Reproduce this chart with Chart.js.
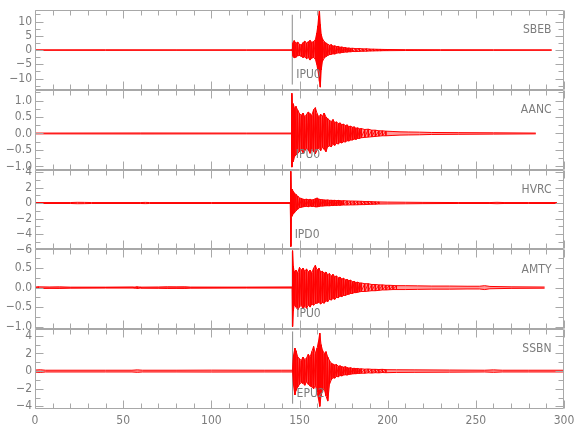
<!DOCTYPE html>
<html>
<head>
<meta charset="utf-8">
<script src="https://cdn.jsdelivr.net/npm/chart.js@4.4.1/dist/chart.umd.min.js"></script>
<style>
  html, body { margin: 0; padding: 0; background: #ffffff; }
  #wrap { width: 580px; height: 440px; position: relative; }
</style>
</head>
<body>
<div id="wrap"><canvas id="c" width="580" height="440"></canvas></div>
<script>
// ---- Data (time in seconds; amplitude envelopes) ----
const stations = ['SBEB', 'AANC', 'HVRC', 'AMTY', 'SSBN'];
const pickLabels = ['IPU0', 'IPU0', 'IPD0', 'IPU0', 'EPU2'];
const pickTimes = [145.9, 145.6, 145.0, 145.9, 146.1];
const pickHi = [12.4, 1.17, 4.1, 0.93, 4.5];
const pickLo = [-12.1, -1.0, -5.6, -1.0, -3.7];

const yMin = [-14, -1.1, -6, -1.07, -4.3];
const yMax = [14, 1.32, 4.3, 0.98, 4.75];
const yStep = [5, 0.5, 2, 0.5, 2];
const yMinor = [2.5, 0.25, 1, 0.25, 1];
const yDecimals = [0, 1, 0, 1, 0];
const xTickLabels = [0, 50, 100, 150, 200, 250, 300];

const sbebT = [0, 40, 80, 120, 145.9, 146.4, 147, 148, 149, 150, 151, 152, 153, 154, 155, 156, 157, 158, 159, 159.8, 160.4, 160.9, 161.3, 161.8, 162.3, 163, 164, 165,
  166, 167, 168, 169, 170, 171, 172, 173, 174, 175, 176, 177, 178, 179, 180, 182, 184, 186, 188, 190, 192, 194, 196, 198, 200, 210, 230, 260, 293];
const sbebHi = [0.08, 0.1, 0.08, 0.08, 0.1, 2.6, 3.3, 2.4, 2.8, 2.0, 1.8, 2.6, 3.1, 2.5, 2.9, 3.4, 2.7, 3.0, 3.6, 6.0, 8.5, 12.0, 14.0, 9.0, 5.5, 4.0, 3.0, 2.5,
  2.1, 1.7, 1.9, 1.4, 1.5, 1.2, 1.3, 1.0, 1.1, 0.85, 0.9, 0.7, 0.75, 0.6, 0.65, 0.5, 0.55, 0.42, 0.45, 0.35, 0.32, 0.28, 0.25, 0.22, 0.2, 0.15, 0.12, 0.1, 0.08];
const sbebLo = [-0.08, -0.1, -0.08, -0.08, -0.1, -2.2, -2.7, -2.5, -2.0, -1.9, -2.2, -2.6, -2.4, -3.0, -2.6, -3.5, -2.8, -2.6, -3.2, -5.0, -7.0, -9.0, -11.0, -13.0, -7.0, -4.0, -2.8, -2.3,
  -1.9, -1.6, -1.5, -1.3, -1.4, -1.1, -1.0, -1.05, -0.85, -0.8, -0.7, -0.72, -0.6, -0.62, -0.5, -0.52, -0.45, -0.4, -0.38, -0.32, -0.3, -0.26, -0.24, -0.2, -0.2, -0.15, -0.12, -0.1, -0.08];

const aancT = [0, 60, 120, 145.5, 145.7, 146.0, 146.5, 147.2, 148, 149, 150, 151, 152, 153, 154, 155, 156, 157, 158, 159, 160, 161, 162, 163, 164, 165, 166,
  167, 168, 169, 170, 171, 172, 173, 174, 175, 176, 177, 178, 179, 180, 181, 182, 183, 184, 185, 187, 189, 191, 193, 195, 197, 199, 203, 207, 212, 218, 225, 240, 260, 284];
const aancHi = [0.012, 0.015, 0.012, 0.012, 1.22, 0.85, 0.9, 0.75, 0.82, 0.7, 0.6, 0.55, 0.62, 0.5, 0.58, 0.65, 0.6, 0.55, 0.72, 0.78, 0.6, 0.5, 0.58, 0.52, 0.62, 0.5, 0.45,
  0.4, 0.36, 0.42, 0.33, 0.35, 0.3, 0.32, 0.27, 0.28, 0.24, 0.26, 0.21, 0.22, 0.19, 0.2, 0.16, 0.17, 0.14, 0.15, 0.12, 0.13, 0.1, 0.1, 0.08, 0.08, 0.07, 0.06, 0.05, 0.045, 0.04, 0.03, 0.025, 0.02, 0.012];
const aancLo = [-0.012, -0.015, -0.012, -0.012, -1.02, -0.8, -0.85, -0.7, -0.65, -0.6, -0.55, -0.5, -0.58, -0.52, -0.45, -0.5, -0.6, -0.48, -0.55, -0.62, -0.5, -0.45, -0.52, -0.42, -0.48, -0.55, -0.4,
  -0.38, -0.4, -0.33, -0.36, -0.3, -0.32, -0.27, -0.29, -0.25, -0.26, -0.22, -0.23, -0.2, -0.2, -0.17, -0.18, -0.15, -0.15, -0.13, -0.12, -0.11, -0.1, -0.09, -0.08, -0.07, -0.07, -0.06, -0.05, -0.045, -0.04, -0.03, -0.025, -0.02, -0.012];

const hvrcT = [0, 20, 24, 28, 32, 60, 62.5, 65, 100, 144.8, 145.1, 145.4, 145.8, 146.4, 147, 148, 149, 150, 151, 152,
  153, 154, 155, 156, 157, 158, 159, 160, 161, 162, 163, 164, 165, 166, 167, 168, 169, 170, 171, 172, 173, 174, 175,
  177, 179, 181, 183, 185, 187, 189, 191, 193, 195, 200, 210, 220, 240, 258, 262, 266, 280, 296];
const hvrcHi = [0.06, 0.06, 0.09, 0.08, 0.06, 0.06, 0.08, 0.06, 0.06, 0.06, 4.1, 1.3, 1.8, 1.5, 1.3, 1.1, 0.9, 0.65, 0.6, 0.5,
  0.45, 0.5, 0.42, 0.48, 0.4, 0.45, 0.55, 0.65, 0.5, 0.45, 0.42, 0.4, 0.38, 0.4, 0.35, 0.36, 0.33, 0.35, 0.3, 0.34, 0.3, 0.28, 0.3,
  0.27, 0.26, 0.25, 0.24, 0.22, 0.2, 0.2, 0.17, 0.15, 0.14, 0.12, 0.1, 0.08, 0.06, 0.06, 0.09, 0.06, 0.06, 0.06];
const hvrcLo = [-0.06, -0.06, -0.09, -0.08, -0.06, -0.06, -0.08, -0.06, -0.06, -0.06, -5.6, -1.0, -1.7, -1.4, -1.3, -1.0, -0.8, -0.6, -0.55, -0.5,
  -0.45, -0.42, -0.48, -0.4, -0.45, -0.42, -0.5, -0.5, -0.45, -0.4, -0.4, -0.38, -0.36, -0.35, -0.36, -0.32, -0.33, -0.3, -0.32, -0.28, -0.3, -0.27, -0.26,
  -0.26, -0.24, -0.24, -0.22, -0.21, -0.2, -0.18, -0.16, -0.15, -0.13, -0.12, -0.1, -0.08, -0.06, -0.06, -0.09, -0.06, -0.06, -0.06];

const amtyT = [0, 2, 8, 14, 20, 40, 56, 58, 60, 70, 75, 80, 85, 88, 120, 145.9, 146.1, 146.5, 147, 148, 149, 150, 151, 152, 153, 154, 155, 156, 157, 158, 159, 160, 161, 162,
  163, 164, 165, 166, 167, 168, 169, 170, 171, 172, 173, 174, 175, 176, 177, 178, 179, 180, 181, 182, 183, 184, 185,
  187, 189, 191, 193, 195, 197, 199, 201, 203, 205, 210, 217, 225, 235, 245, 252, 255, 258, 270, 289];
const amtyHi = [0.016, 0.02, 0.016, 0.02, 0.012, 0.012, 0.012, 0.02, 0.012, 0.016, 0.022, 0.02, 0.022, 0.014, 0.012, 0.012, 0.95, 0.55, 0.4, 0.45, 0.38, 0.52, 0.45, 0.5, 0.42, 0.48, 0.4, 0.45, 0.38, 0.5, 0.57, 0.45, 0.5, 0.4,
  0.42, 0.37, 0.4, 0.33, 0.36, 0.3, 0.34, 0.28, 0.3, 0.25, 0.27, 0.22, 0.24, 0.2, 0.21, 0.18, 0.19, 0.15, 0.16, 0.13, 0.14, 0.12, 0.12,
  0.1, 0.1, 0.08, 0.08, 0.07, 0.07, 0.06, 0.06, 0.055, 0.05, 0.05, 0.045, 0.04, 0.04, 0.035, 0.035, 0.05, 0.03, 0.02, 0.015];
const amtyLo = [-0.016, -0.02, -0.016, -0.02, -0.012, -0.012, -0.012, -0.02, -0.012, -0.016, -0.022, -0.02, -0.022, -0.014, -0.012, -0.012, -1.0, -0.6, -0.44, -0.5, -0.57, -0.5, -0.45, -0.55, -0.48, -0.53, -0.45, -0.5, -0.42, -0.45, -0.41, -0.4, -0.38, -0.42,
  -0.38, -0.4, -0.34, -0.36, -0.3, -0.32, -0.28, -0.3, -0.25, -0.26, -0.22, -0.23, -0.2, -0.2, -0.18, -0.17, -0.15, -0.15, -0.13, -0.13, -0.12, -0.11, -0.1,
  -0.1, -0.09, -0.08, -0.08, -0.07, -0.06, -0.06, -0.055, -0.05, -0.05, -0.05, -0.045, -0.04, -0.04, -0.035, -0.035, -0.05, -0.03, -0.02, -0.015];

const ssbnT = [0, 3, 6, 40, 55, 58, 61, 80, 100, 130, 140, 146.1, 146.6, 147.4, 148, 149, 150, 151, 152, 153, 154, 155, 156, 157, 158, 159, 160, 160.8, 161.5, 162.2, 163, 164, 165, 166, 167, 168,
  169, 170, 171, 172, 173, 174, 175, 176, 177, 178, 179, 180, 181, 182, 183, 184, 185, 187, 189, 191, 193, 195, 197, 199, 205, 215, 235, 255, 260, 265, 280, 300];
const ssbnHi = [0.12, 0.15, 0.1, 0.1, 0.1, 0.14, 0.1, 0.1, 0.11, 0.1, 0.1, 0.1, 1.8, 2.6, 2.3, 1.6, 1.4, 1.2, 1.6, 1.3, 1.5, 1.9, 1.6, 2.2, 2.8, 2.0, 2.6, 3.4, 4.3, 3.0, 2.4, 2.0, 2.2, 1.6, 1.2, 0.9,
  0.8, 0.7, 0.75, 0.55, 0.6, 0.5, 0.45, 0.5, 0.4, 0.35, 0.38, 0.3, 0.32, 0.28, 0.3, 0.25, 0.26, 0.22, 0.24, 0.2, 0.2, 0.18, 0.2, 0.16, 0.15, 0.14, 0.12, 0.1, 0.14, 0.1, 0.1, 0.1];
const ssbnLo = [-0.12, -0.15, -0.1, -0.1, -0.1, -0.14, -0.1, -0.1, -0.11, -0.1, -0.1, -0.1, -1.6, -2.7, -2.2, -1.8, -1.5, -1.3, -1.4, -1.6, -1.2, -1.5, -1.7, -1.8, -2.0, -1.6, -2.4, -3.2, -4.0, -2.8, -2.2, -2.0, -2.8, -3.4, -1.5, -1.0,
  -0.75, -0.8, -0.6, -0.65, -0.5, -0.55, -0.45, -0.42, -0.45, -0.38, -0.35, -0.32, -0.3, -0.3, -0.26, -0.26, -0.24, -0.24, -0.2, -0.22, -0.18, -0.2, -0.16, -0.18, -0.15, -0.14, -0.12, -0.1, -0.14, -0.1, -0.1, -0.1];

const traceT = [sbebT, aancT, hvrcT, amtyT, ssbnT];
const traceHi = [sbebHi, aancHi, hvrcHi, amtyHi, ssbnHi];
const traceLo = [sbebLo, aancLo, hvrcLo, amtyLo, ssbnLo];

// ---- Styling ----
const FONT = "'Liberation Sans Narrow', 'DejaVu Sans Condensed', 'Roboto Condensed', Roboto, sans-serif";
const TEXT = '#7c7c7c';
const FRAME = '#a8a8a8';
const PICK = '#8a8a8a';
const RED = '#ff0000';

const datasets = [];
stations.forEach((s, i) => {
  const T = traceT[i];
  // oscillating strokes where the envelope is densely sampled (strong motion)
  const pts = [];
  T.forEach((t, k) => {
    const prevGap = k > 0 ? t - T[k - 1] : 99;
    const nextGap = k < T.length - 1 ? T[k + 1] - t : 99;
    if (Math.min(prevGap, nextGap) <= 2.1) {
      pts.push({ x: t, y: traceHi[i][k] }, { x: t, y: traceLo[i][k] });
    }
  });
  datasets.push({
    label: s + ' trace', yAxisID: 'y' + i, data: pts,
    borderColor: 'rgba(255,0,0,0.9)', borderWidth: 1, pointRadius: 0, fill: false, tension: 0
  });
});
stations.forEach((s, i) => {
  const T = traceT[i];
  datasets.push({
    label: s + ' hi', yAxisID: 'y' + i,
    data: T.map((t, k) => ({ x: t, y: traceHi[i][k] })),
    borderColor: RED, borderWidth: 1, pointRadius: 0, fill: false, tension: 0
  });
  datasets.push({
    label: s + ' lo', yAxisID: 'y' + i,
    data: T.map((t, k) => ({ x: t, y: traceLo[i][k] })),
    borderColor: RED, borderWidth: 1, pointRadius: 0, tension: 0,
    fill: '-1', backgroundColor: 'rgba(255,30,30,0.45)'
  });
});
stations.forEach((s, i) => {
  datasets.push({
    label: s + ' pick', yAxisID: 'y' + i,
    data: [{ x: pickTimes[i], y: pickLo[i] }, { x: pickTimes[i], y: pickHi[i] }],
    borderColor: PICK, borderWidth: 1, pointRadius: 0, fill: false
  });
});

const scales = {
  x: {
    type: 'linear', position: 'bottom', min: 0, max: 300,
    grid: { display: false, drawTicks: false },
    border: { display: false },
    afterBuildTicks: (sc) => { sc.ticks = xTickLabels.map(v => ({ value: v })); },
    ticks: { color: TEXT, font: { family: FONT, size: 12 }, padding: 5, maxRotation: 0, autoSkip: false },
    afterFit: (sc) => { sc.height = 31; }
  }
};
stations.forEach((s, i) => {
  scales['y' + i] = {
    type: 'linear', position: 'left', stack: 'panels', stackWeight: 1, weight: 5 - i,
    min: yMin[i], max: yMax[i], offset: false,
    grid: { display: false, drawTicks: false },
    border: { display: false },
    ticks: {
      stepSize: yStep[i], includeBounds: false, autoSkip: false, padding: 3,
      color: TEXT, font: { family: FONT, size: 12 },
      callback: (v) => (v < 0 ? '\u2212' : '') + Math.abs(v).toFixed(yDecimals[i])
    },
    afterFit: (sc) => { sc.width = 35; }
  };
});

const framePlugin = {
  id: 'frame',
  afterDatasetsDraw(chart) {
    const ctx = chart.ctx;
    const ca = chart.chartArea;
    const xs = chart.scales.x;
    const L = Math.round(ca.left) + 0.5, R = Math.round(ca.right) - 0.5;
    ctx.save();
    ctx.strokeStyle = FRAME;
    ctx.lineWidth = 1;
    stations.forEach((s, i) => {
      const ys = chart.scales['y' + i];
      const T = Math.round(ys.top) + 0.5, B = Math.round(ys.bottom) - 0.5;
      ctx.beginPath();
      ctx.moveTo(L, T); ctx.lineTo(R, T); ctx.lineTo(R, B); ctx.lineTo(L, B); ctx.closePath();
      for (let v = 0; v <= 300; v += 10) {
        const px = Math.round(xs.getPixelForValue(v)) + 0.5;
        const len = (v % 50 === 0) ? 8 : 5;
        ctx.moveTo(px, T); ctx.lineTo(px, T + len);
        ctx.moveTo(px, B); ctx.lineTo(px, B - len);
      }
      const m = yMinor[i];
      for (let v = Math.ceil(yMin[i] / m) * m; v <= yMax[i] + 1e-9; v += m) {
        const py = Math.round(ys.getPixelForValue(v)) + 0.5;
        const major = Math.abs(v / yStep[i] - Math.round(v / yStep[i])) < 1e-6;
        const len = major ? 8 : 5;
        ctx.moveTo(L, py); ctx.lineTo(L + len, py);
        ctx.moveTo(R, py); ctx.lineTo(R - len, py);
      }
      ctx.stroke();
      ctx.fillStyle = TEXT;
      ctx.font = '12px ' + FONT;
      ctx.textBaseline = 'middle';
      ctx.textAlign = 'right';
      ctx.fillText(s, R - 12, ys.top + 20);
      ctx.textAlign = 'left';
      ctx.fillText(pickLabels[i], xs.getPixelForValue(pickTimes[i]) + 4, ys.bottom - 15);
    });
    ctx.restore();
  }
};

new Chart(document.getElementById('c'), {
  type: 'line',
  data: { datasets },
  options: {
    responsive: false, animation: false, devicePixelRatio: 1,
    layout: { padding: { top: 5, right: 16, left: 0, bottom: 0 } },
    plugins: { legend: { display: false }, tooltip: { enabled: false } },
    scales
  },
  plugins: [framePlugin]
});
</script>
</body>
</html>
